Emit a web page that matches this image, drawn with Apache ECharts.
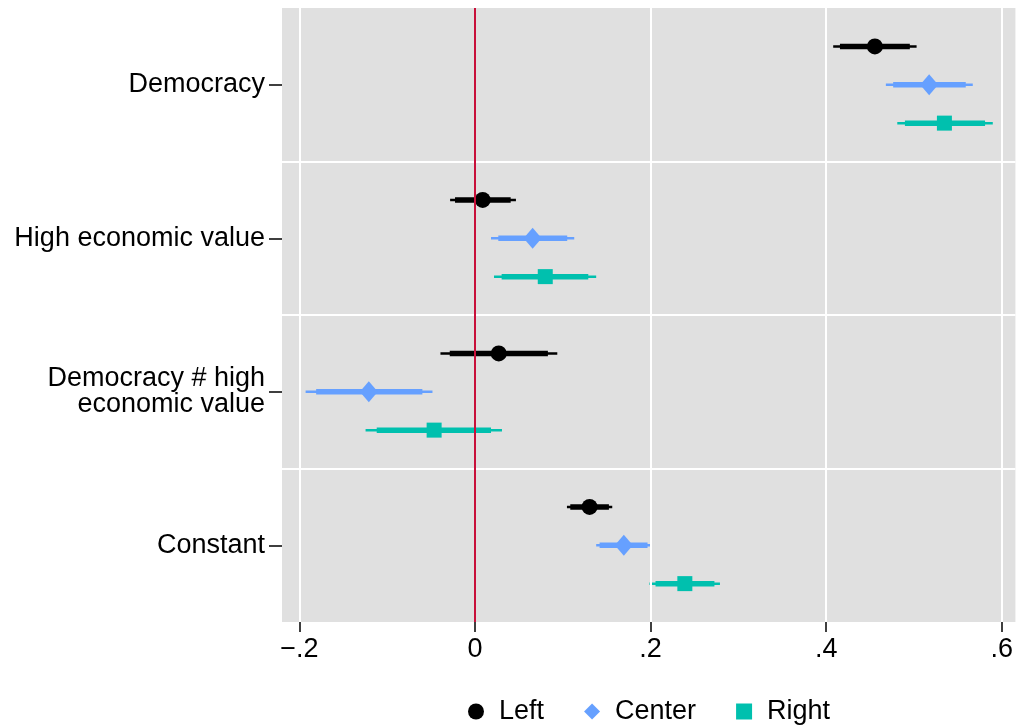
<!DOCTYPE html>
<html>
<head>
<meta charset="utf-8">
<script src="https://cdn.jsdelivr.net/npm/echarts@6/dist/echarts.min.js"></script>
<style>html,body{margin:0;padding:0;background:#fff}#c{width:1016px;height:726px}</style>
</head>
<body>
<div id="c"></div>
<script>
// ---- data ----
const categories = ['Democracy', 'High economic value', 'Democracy # high\neconomic value', 'Constant'];
const groups = ['Left', 'Center', 'Right'];

const leftEst   = [0.4555, 0.0087, 0.027, 0.1305];
const leftLo95  = [0.408, -0.0284, -0.0394, 0.1047];
const leftHi95  = [0.503, 0.0466, 0.0937, 0.1563];
const leftLo90  = [0.4157, -0.0228, -0.0288, 0.1085];
const leftHi90  = [0.4953, 0.0406, 0.083, 0.1525];

const centerEst  = [0.5173, 0.0656, -0.121, 0.1695];
const centerLo95 = [0.468, 0.0182, -0.193, 0.138];
const centerHi95 = [0.567, 0.113, -0.0485, 0.201];
const centerLo90 = [0.4763, 0.0265, -0.181, 0.1419];
const centerHi90 = [0.559, 0.105, -0.060, 0.1965];

const rightEst  = [0.5347, 0.080, -0.0466, 0.239];
const rightLo95 = [0.481, 0.0216, -0.1247, 0.1987];
const rightHi95 = [0.5898, 0.138, 0.0307, 0.279];
const rightLo90 = [0.4897, 0.0303, -0.112, 0.2056];
const rightHi90 = [0.581, 0.129, 0.0182, 0.2727];

const xTickValues = [-0.2, 0, 0.2, 0.4, 0.6];
const xTickLabels = ['\u2212.2', '0', '.2', '.4', '.6'];
const xGridValues = [-0.2, 0.2, 0.4, 0.6];
const refLineValue = 0;

// ---- build ----
const FONT = 'Liberation Sans, Arial, Helvetica, sans-serif';
const colors = { Left: '#000000', Center: '#66a0ff', Right: '#00c0ae' };
const symbols = { Left: 'circle', Center: 'diamond', Right: 'rect' };
const symbolSizes = { Left: 16, Center: [18, 21], Right: 15 };
const offsets = { Left: -0.25, Center: 0, Right: 0.25 };
const seriesData = {
  Left:   [leftEst, leftLo95, leftHi95, leftLo90, leftHi90],
  Center: [centerEst, centerLo95, centerHi95, centerLo90, centerHi90],
  Right:  [rightEst, rightLo95, rightHi95, rightLo90, rightHi90]
};
const catPos = categories.map((c, i) => i + 1);

const series = [];
series.push({
  type: 'line', name: 'gridlines', data: [], z: 1, silent: true,
  markLine: {
    silent: true, symbol: ['none', 'none'], label: { show: false }, animation: false,
    lineStyle: { color: '#ffffff', width: 2, type: 'solid' },
    data: xGridValues.map(v => ({ xAxis: v }))
      .concat(catPos.slice(0, -1).map(p => ({ yAxis: p + 0.5 })))
  }
});
series.push({
  type: 'line', name: 'refline', data: [], z: 2, silent: true,
  markLine: {
    silent: true, symbol: ['none', 'none'], label: { show: false }, animation: false,
    lineStyle: { color: '#c8103a', width: 2, type: 'solid' },
    data: [{ xAxis: refLineValue }]
  }
});

groups.forEach(g => {
  const [est, lo95, hi95, lo90, hi90] = seriesData[g];
  series.push({
    type: 'custom', name: g + ' CI', z: 3, silent: true,
    data: est.map((e, i) => [lo95[i], hi95[i], lo90[i], hi90[i], catPos[i] + offsets[g]]),
    encode: { x: [0, 1, 2, 3], y: 4 },
    renderItem: function (params, api) {
      const y = api.value(4);
      const a = api.coord([api.value(0), y]);
      const b = api.coord([api.value(1), y]);
      const c = api.coord([api.value(2), y]);
      const d = api.coord([api.value(3), y]);
      return {
        type: 'group',
        children: [
          { type: 'line', shape: { x1: a[0], y1: a[1], x2: b[0], y2: b[1] },
            style: { stroke: colors[g], lineWidth: 2.5 } },
          { type: 'line', shape: { x1: c[0], y1: c[1], x2: d[0], y2: d[1] },
            style: { stroke: colors[g], lineWidth: 5.5 } }
        ]
      };
    }
  });
  series.push({
    type: 'scatter', name: g, z: 4,
    symbol: symbols[g], symbolSize: symbolSizes[g],
    itemStyle: { color: colors[g], opacity: 1 },
    data: est.map((e, i) => [e, catPos[i] + offsets[g]])
  });
});

const chart = echarts.init(document.getElementById('c'), null, { renderer: 'canvas' });
chart.setOption({
  animation: false,
  textStyle: { fontFamily: FONT },
  grid: { left: 282, right: 0, top: 8, bottom: 104, show: true, backgroundColor: '#e0e0e0', borderWidth: 0, containLabel: false },
  xAxis: {
    type: 'value', min: -0.2199, max: 0.6156,
    axisLine: { show: false, onZero: false },
    splitLine: { show: false },
    axisTick: { show: true, customValues: xTickValues, length: 10, lineStyle: { color: '#000', width: 1.5 } },
    axisLabel: {
      customValues: xTickValues, margin: 14, fontSize: 27, color: '#000', fontFamily: FONT,
      formatter: v => { const i = xTickValues.findIndex(t => Math.abs(t - v) < 1e-9); return i >= 0 ? xTickLabels[i] : ''; }
    }
  },
  yAxis: {
    type: 'value', inverse: true, min: 0.5, max: 4.5,
    axisLine: { show: false, onZero: false },
    splitLine: { show: false },
    axisTick: { show: true, customValues: catPos, length: 13, lineStyle: { color: '#000', width: 1.5 } },
    axisLabel: {
      customValues: catPos, margin: 17, fontSize: 27, lineHeight: 26, color: '#000', align: 'right', fontFamily: FONT,
      formatter: v => { const i = catPos.findIndex(t => Math.abs(t - v) < 1e-9); return i >= 0 ? categories[i] : ''; }
    }
  },
  legend: {
    data: groups.map(g => ({ name: g, icon: symbols[g] })),
    left: 463, top: 693, itemWidth: 16, itemHeight: 16, itemGap: 40,
    textStyle: { fontSize: 27, color: '#000', padding: [0, 0, 0, 10], fontFamily: FONT },
    selectedMode: false
  },
  series: series
});
</script>
</body>
</html>
